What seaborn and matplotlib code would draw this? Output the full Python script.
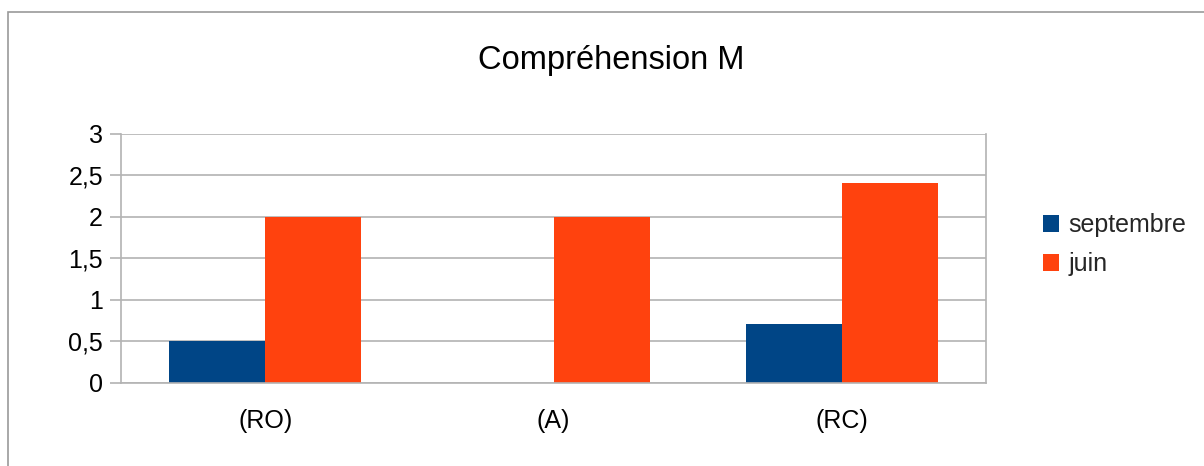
import matplotlib
matplotlib.use("Agg")
import matplotlib.pyplot as plt
from matplotlib.patches import Rectangle
from matplotlib.ticker import FuncFormatter, FixedLocator
import seaborn as sns
import pandas as pd

categories = ["(RO)", "(A)", "(RC)"]
series_names = ["septembre", "juin"]
septembre = [0.5, 0.0, 0.7]
juin = [2.0, 2.0, 2.4]
y_ticks = [0, 0.5, 1, 1.5, 2, 2.5, 3]
title = "Compréhension M"

df = pd.DataFrame({
    "cat": categories * 2,
    "serie": [series_names[0]] * 3 + [series_names[1]] * 3,
    "val": septembre + juin,
})

sns.set_theme(style="white")
plt.rcParams["font.family"] = ["Liberation Sans", "DejaVu Sans"]

W, H = 1204, 466
fig = plt.figure(figsize=(W / 100, H / 100), dpi=100)
fig.patch.set_facecolor("white")

# outer chart frame (left and top edges visible)
fig.add_artist(Rectangle((8 / W, -0.1), 1.2, (H - 12) / H + 0.1,
                         transform=fig.transFigure, fill=False,
                         edgecolor="#9a9a9a", linewidth=1.2))

left, right, top, bottom = 121, 986, 133.5, 382.5
ax = fig.add_axes([left / W, 1 - bottom / H, (right - left) / W, (bottom - top) / H])

palette = {"septembre": "#004586", "juin": "#ff420e"}
sns.barplot(data=df, x="cat", y="val", hue="serie", palette=palette,
            width=0.667, saturation=1, ax=ax, legend=True, linewidth=0)

ax.set_xlim(-0.5, 2.5)
ax.set_ylim(0, 3)
ax.set_yticks(y_ticks)
ax.yaxis.set_major_formatter(FuncFormatter(lambda v, p: f"{v:g}".replace(".", ",")))
ax.yaxis.grid(True, color="#b3b3b3", linewidth=1.2)
ax.set_axisbelow(True)
ax.set_xlabel("")
ax.set_ylabel("")

ax.spines["top"].set_visible(False)
for s in ["left", "right", "bottom"]:
    ax.spines[s].set_color("#b3b3b3")
    ax.spines[s].set_linewidth(1.2)

ax.tick_params(axis="x", which="major", length=0, pad=19, labelsize=18, colors="black")
ax.xaxis.set_minor_locator(FixedLocator([-0.5, 0.5, 1.5, 2.5]))
ax.tick_params(axis="x", which="minor", length=8, width=1.2, color="#b3b3b3", direction="out")
ax.tick_params(axis="y", which="major", length=8, width=1.2, color="#b3b3b3",
               direction="out", pad=5, labelsize=18, labelcolor="black", left=True)

fig.text(0.508, 1 - 61 / H, title, ha="center", va="center", fontsize=23.5, color="black")

handles, labels = ax.get_legend_handles_labels()
ax.legend(handles, labels, loc="center left", bbox_to_anchor=(1020 / W, 1 - 245 / H),
          bbox_transform=fig.transFigure, frameon=False, fontsize=18,
          handlelength=0.65, handleheight=0.65, handletextpad=0.4, labelspacing=0.6)

fig.savefig("out.png", dpi=100)
